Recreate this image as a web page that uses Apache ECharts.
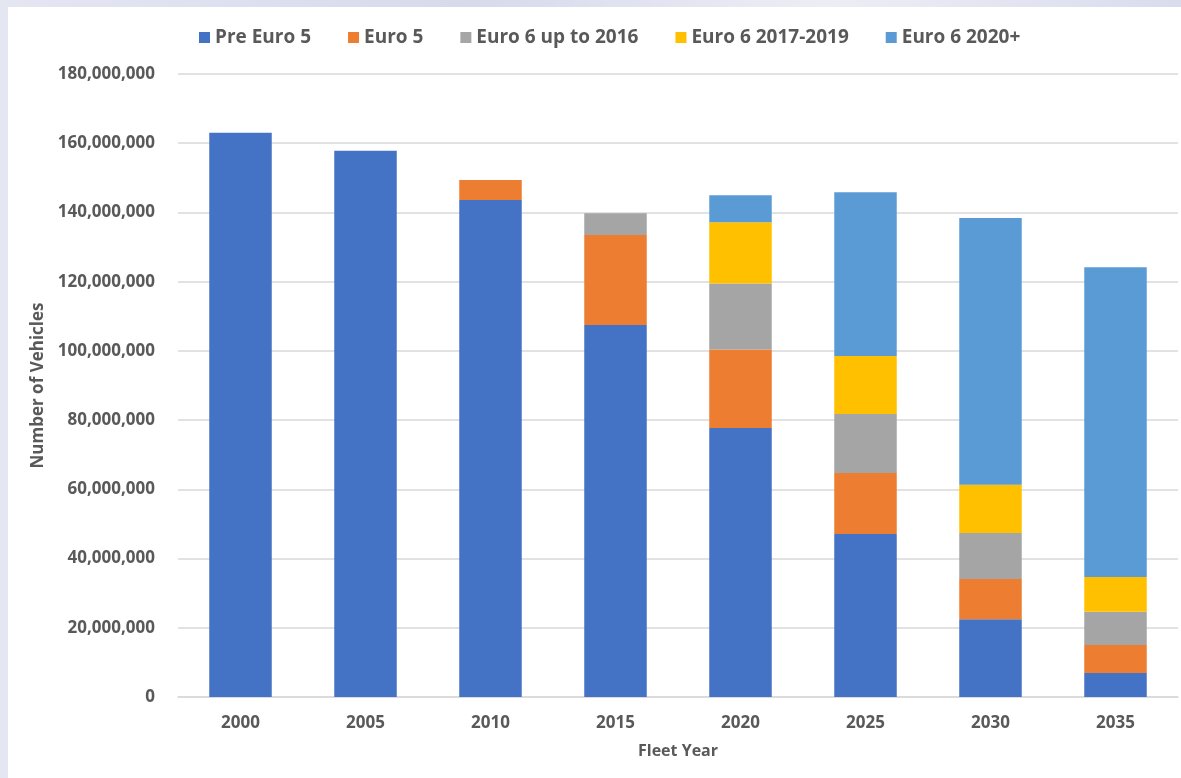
<!DOCTYPE html>
<html>
<head>
<meta charset="utf-8">
<script src="https://cdn.jsdelivr.net/npm/echarts@6/dist/echarts.min.js"></script>
<style>
html,body{margin:0;padding:0;width:1181px;height:778px;overflow:hidden;background:linear-gradient(90deg,#e4e6f2,#d6daea 40%,#eceef6 70%,#d9dcec);}
#frame{position:absolute;left:8px;top:7px;width:1173px;height:771px;background:#fff;}
#chart{position:absolute;left:-8px;top:-7px;width:1181px;height:778px;}
</style>
</head>
<body>
<div id="frame"><div id="chart"></div></div>
<script>
const categories = ['2000','2005','2010','2015','2020','2025','2030','2035'];
const seriesNames = ['Pre Euro 5','Euro 5','Euro 6 up to 2016','Euro 6 2017-2019','Euro 6 2020+'];
const preEuro5   = [163.0, 157.8, 143.6, 107.5, 77.7, 47.1, 22.5, 6.9].map(v=>v*1e6);
const euro5      = [0, 0, 5.8, 26.0, 22.7, 17.6, 11.6, 8.1].map(v=>v*1e6);
const euro6to16  = [0, 0, 0, 6.3, 19.1, 17.1, 13.3, 9.6].map(v=>v*1e6);
const euro6_1719 = [0, 0, 0, 0, 17.7, 16.7, 13.9, 10.1].map(v=>v*1e6);
const euro6_2020 = [0, 0, 0, 0, 7.8, 47.3, 77.1, 89.5].map(v=>v*1e6);
const colors = ['#4472C4','#ED7D31','#A5A5A5','#FFC000','#5B9BD5'];
const dataSets = [preEuro5, euro5, euro6to16, euro6_1719, euro6_2020];

const font = 'Open Sans';
const chart = echarts.init(document.getElementById('chart'), null, {renderer:'canvas'});
chart.setOption({
  animation:false,
  color: colors,
  legend:{
    top: 23, left: 194,
    itemWidth: 11, itemHeight: 11, itemGap: 37,
    icon: 'rect',
    textStyle:{fontFamily:font, fontWeight:'bold', fontSize:19, color:'#595959'},
    data: seriesNames
  },
  grid:{left:178, right:3, top:74, bottom:81},
  xAxis:{
    type:'category', data:categories,
    name:'Fleet Year', nameLocation:'middle', nameGap:46,
    nameTextStyle:{fontFamily:font, fontWeight:'bold', fontSize:16, color:'#595959'},
    axisTick:{show:false},
    axisLine:{lineStyle:{color:'#D9D9D9', width:1.5}},
    axisLabel:{fontFamily:font, fontWeight:'bold', fontSize:17, color:'#595959', margin:18}
  },
  yAxis:{
    type:'value', min:0, max:180000000, interval:20000000,
    name:'Number of Vehicles', nameLocation:'middle', nameGap:127,
    nameTextStyle:{fontFamily:font, fontWeight:'bold', fontSize:17, color:'#595959'},
    axisLine:{show:false}, axisTick:{show:false},
    splitLine:{lineStyle:{color:'#D9D9D9', width:1.5}},
    axisLabel:{fontFamily:font, fontWeight:'bold', fontSize:17, color:'#595959', margin:23,
      formatter: v => v.toLocaleString('en-US')}
  },
  series: seriesNames.map((n,i)=>({
    name:n, type:'bar', stack:'total', barWidth:'50%',
    itemStyle:{color:colors[i]},
    data: dataSets[i]
  }))
});
</script>
</body>
</html>
